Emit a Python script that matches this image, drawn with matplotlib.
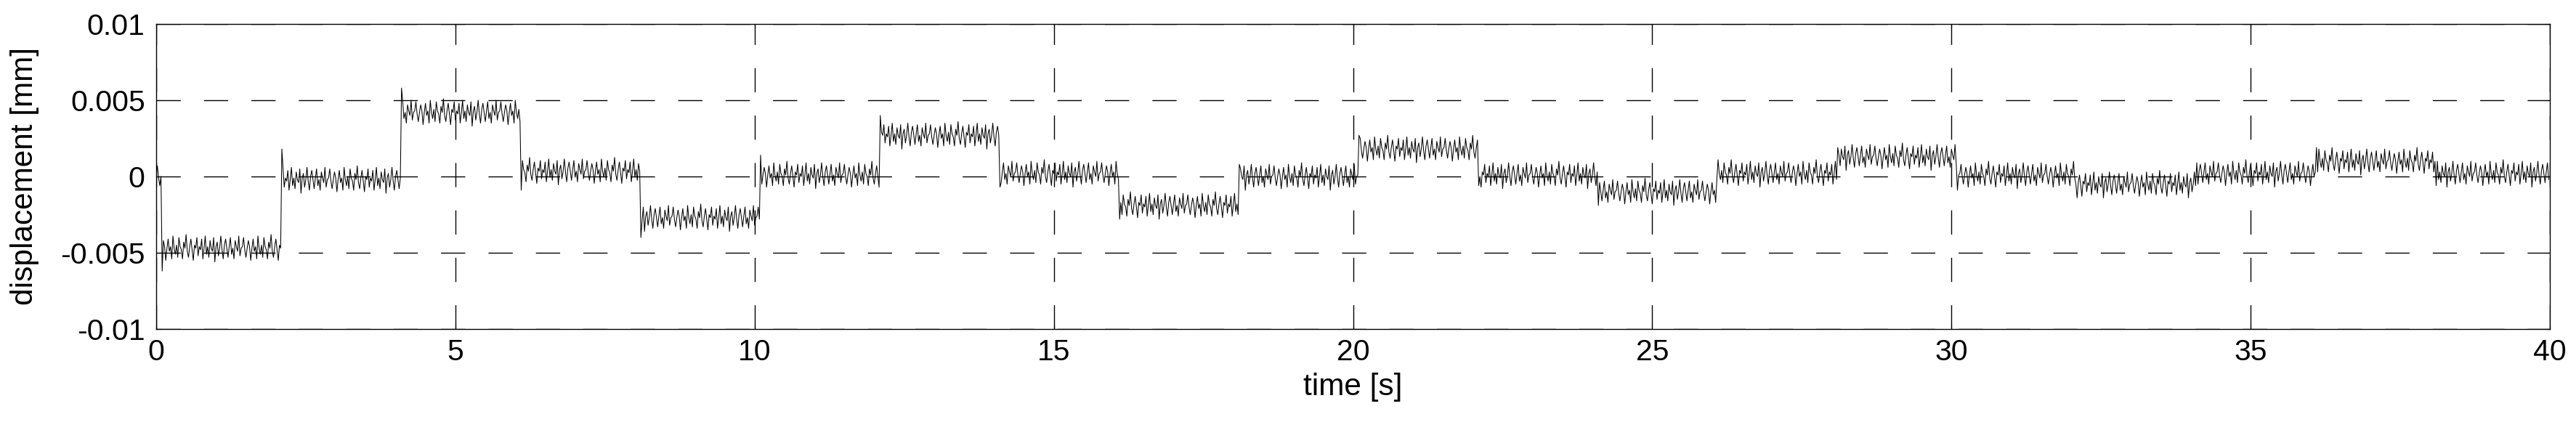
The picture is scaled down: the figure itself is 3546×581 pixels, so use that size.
import numpy as np
import matplotlib.pyplot as plt

plt.rcParams['font.family'] = ['Liberation Sans', 'DejaVu Sans']
plt.rcParams['axes.unicode_minus'] = False

# step start times [s] and plateau levels [1e-3 mm]
step_t = [0.0, 0.1, 2.1, 4.1, 6.1, 8.1, 10.1, 12.1, 14.1, 16.1, 18.1,
          20.1, 22.1, 24.1, 26.1, 28.1, 30.1, 32.1, 34.1, 36.1, 38.1]
level = [0.0, -4.7, -0.2, 4.2, 0.35, -2.7, 0.1, 2.7, 0.2, -1.9, 0.0,
         1.8, 0.1, -1.0, 0.2, 1.3, 0.1, -0.5, 0.2, 1.0, 0.2]
# peak value right at each step edge [1e-3 mm]
edge = [-6.2, 1.8, 5.8, -0.9, -4.0, 1.4, 4.0, -0.7, -2.8, 0.8,
        2.7, -0.6, -1.9, 1.1, 1.9, -0.9, -1.4, 0.9, 1.9, -0.6]
noise = [0.1, 0.7, -0.1, -0.6, 0.0, 0.5, 0.1, -0.8, 0.0, 0.6, -0.2, 0.1,
         -0.7, 0.8, 0.0, -0.4, 0.2, -0.6, 0.7, 0.1, -0.1, -0.7, 0.4, 0.0,
         0.9, -0.2, -0.6, 0.1, 0.6, -0.1, -0.8, 0.2, 0.0, 0.7, -0.5, 0.1,
         -0.1, 0.6, -0.7, 0.0, 0.8, -0.4, 0.1, -0.6, 0.5, 0.0, -0.2, 0.7,
         -0.9, 0.1, 0.4, -0.5, 0.0, 0.8, -0.1, -0.7, 0.2, 0.6, 0.0, -0.6,
         0.1, 0.7, -0.4, 0.0, -0.7, 0.5, 0.1, -0.2, 0.8, -0.5, 0.0]
t_end = 40.0
dt = 0.02

t_all = []
y_all = []
k = 0
bounds = step_t + [t_end]
for i in range(len(step_t)):
    ts = np.arange(bounds[i], bounds[i + 1] - 1e-9, dt)
    for j, tt in enumerate(ts):
        if j == 0 and i > 0:
            v = edge[i - 1]
        else:
            v = level[i] + noise[k % len(noise)]
            k += 1
        t_all.append(tt)
        y_all.append(v * 1e-3)

fig = plt.figure(figsize=(35.46, 5.81), dpi=100)
ax = fig.add_axes([215 / 3546, 1 - 453 / 581, (3510 - 215) / 3546, (453 - 33) / 581])
ax.plot(t_all, y_all, color='k', linewidth=0.75)

ax.set_xlim(0, 40)
ax.set_ylim(-0.01, 0.01)
ax.set_xticks([0, 5, 10, 15, 20, 25, 30, 35, 40])
ax.set_yticks([-0.01, -0.005, 0, 0.005, 0.01])
ax.set_yticklabels(['-0.01', '-0.005', '0', '0.005', '0.01'])
ax.grid(True, color='k', linestyle=(0, (24, 23)), linewidth=1.0)
ax.tick_params(axis='both', direction='in', length=4, labelsize=29.5, top=True, right=True)
ax.tick_params(axis='x', pad=9.5)
ax.tick_params(axis='y', pad=11)
for s in ax.spines.values():
    s.set_linewidth(1.0)
ax.set_xlabel('time [s]', fontsize=30.5, labelpad=6)
ax.set_ylabel('displacement [mm]', fontsize=30.5, labelpad=21)

fig.savefig('out.png', dpi=100)
